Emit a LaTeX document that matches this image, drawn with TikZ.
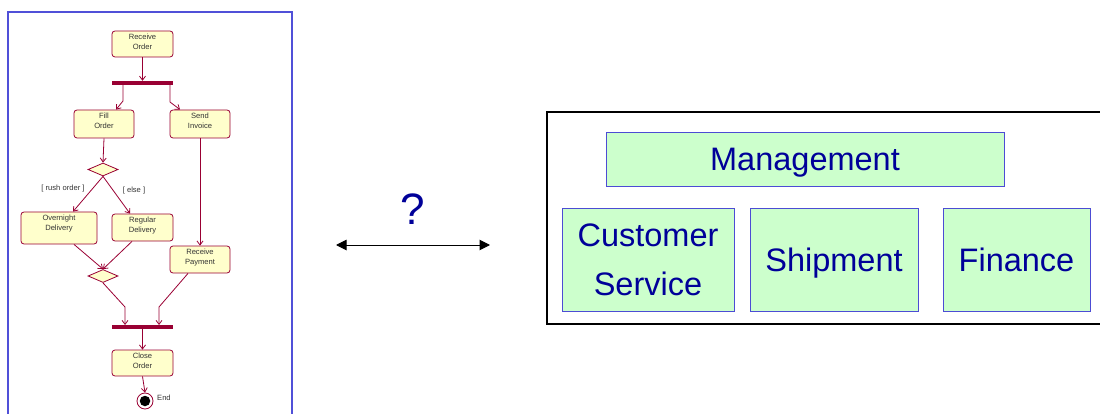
\documentclass[tikz,border=0pt]{standalone}
\usepackage{fontspec}
\setmainfont{Liberation Sans}
\usetikzlibrary{arrows.meta,shapes.geometric}
\definecolor{umlred}{HTML}{990033}
\definecolor{umlfill}{HTML}{FFFFCC}
\definecolor{umltext}{HTML}{333333}
\definecolor{frameblue}{HTML}{5050D8}
\definecolor{unitfill}{HTML}{CCFFCC}
\definecolor{unitline}{HTML}{4C4CD4}
\definecolor{navytext}{HTML}{000099}
% text of an activity, hung from the top of a box of the given height
\newcommand{\acttext}[2]{\parbox[c][#1pt][t]{50pt}{\centering #2}}
\tikzset{
  act/.style={draw=umlred, fill=umlfill, rounded corners=3pt, line width=0.8pt,
    inner sep=0pt, text=umltext, font=\fontsize{7.6}{9.8}\selectfont},
  syncbar/.style={fill=umlred, draw=none, minimum width=61pt, minimum height=3.6pt, inner sep=0pt},
  choice/.style={diamond, draw=umlred, fill=umlfill, line width=0.8pt,
    minimum width=30pt, minimum height=13pt, inner sep=0pt},
  flow/.style={draw=umlred, line width=0.8pt, -{Straight Barb[length=4pt,width=6pt]}},
  guard/.style={text=umltext, font=\fontsize{7.6}{9}\selectfont, inner sep=0pt},
  unit/.style={draw=unitline, fill=unitfill, line width=0.9pt, text=navytext,
    font=\fontsize{32.5}{49}\selectfont, align=center, inner sep=0pt},
  oneline/.style={text height=23.4pt, text depth=0pt},
}
\begin{document}
\begin{tikzpicture}[x=1pt, y=-1pt]
\useasboundingbox (0,0) rectangle (1100,414);

% ---- activity diagram ----
\draw[frameblue, line width=1.5pt] (8,12) rectangle (292,440);

\node[act, minimum width=61pt, minimum height=26pt] (ro) at (142.5,44) {\acttext{20}{Receive\\Order}};
\node[syncbar] (fork) at (142.5,82.8) {};
\node[act, minimum width=60pt, minimum height=28pt] (fo) at (104,124) {\acttext{22}{Fill\\Order}};
\node[act, minimum width=60pt, minimum height=28pt] (si) at (200,124) {\acttext{22}{Send\\Invoice}};
\node[choice] (d1) at (103,169.5) {};
\node[act, minimum width=76pt, minimum height=32pt] (on) at (59,228) {\acttext{26}{Overnight\\Delivery}};
\node[act, minimum width=61pt, minimum height=27pt] (rd) at (142.5,227.5) {\acttext{21}{Regular\\Delivery}};
\node[act, minimum width=60pt, minimum height=27pt] (rp) at (200,259.5) {\acttext{21}{Receive\\Payment}};
\node[choice] (d2) at (103,276) {};
\node[syncbar] (join) at (142.5,327) {};
\node[act, minimum width=61pt, minimum height=26pt] (co) at (142.5,363) {\acttext{20}{Close\\Order}};
\node[circle, draw=umlred, fill=white, line width=0.8pt, minimum size=16pt, inner sep=0pt] (fin) at (145,401) {};
\node[circle, fill=black, minimum size=10.5pt, inner sep=0pt] (findot) at (fin.center) {};
\node[guard, anchor=west] (endlbl) at (157,398) {End};

\node[guard] (g1) at (63,189) {[ rush order ]};
\node[guard] (g2) at (134,191) {[ else ]};

\draw[flow] (ro.south) -- (fork.north);
\draw[flow] (fork.south -| 123,0) -- (123,101) -- ([xshift=12pt]fo.north);
\draw[flow] (fork.south -| 170,0) -- (170,102) -- ([xshift=-20pt]si.north);
\draw[flow] (fo.south) -- (d1.north);
\draw[flow] (d1.south) -- ([xshift=14pt]on.north);
\draw[flow] (d1.south) -- ([xshift=-12.5pt]rd.north);
\draw[flow] (si.south) -- (rp.north);
\draw[flow] ([xshift=15pt]on.south) -- (d2.north);
\draw[flow] ([xshift=-10.5pt]rd.south) -- (d2.north);
\draw[flow] (d2.south) -- (125,307) -- (join.north -| 125,0);
\draw[flow] ([xshift=-12pt]rp.south) -- (159,307) -- (join.north -| 159,0);
\draw[flow] (join.south) -- (co.north);
\draw[flow] (co.south) -- (fin.north);

% ---- the question between the two views ----
\node[text=navytext, font=\fontsize{44}{44}\selectfont, text height=32pt, text depth=0pt, inner sep=0pt] (q) at (413,209) {?};
\coordinate (la) at (336,245);
\coordinate (ra) at (490,245);
\draw[line width=1pt, {Triangle[length=10.5pt,width=10.5pt]}-{Triangle[length=10.5pt,width=10.5pt]}] (la) -- (ra);

% ---- organisation chart ----
\draw[black, line width=1.2pt] (547,112) rectangle (1115,324);
\node[unit, oneline, minimum width=398pt, minimum height=54pt] (mgmt) at (805,159) {Management};
\node[unit, minimum width=172pt, minimum height=103pt] (cs) at (648,259.5) {Customer\\Service};
\node[unit, oneline, minimum width=168pt, minimum height=103pt] (ship) at (834,259.5) {Shipment};
\node[unit, oneline, minimum width=147pt, minimum height=103pt] (fin2) at (1016.5,259.5) {Finance};
\end{tikzpicture}
\end{document}
